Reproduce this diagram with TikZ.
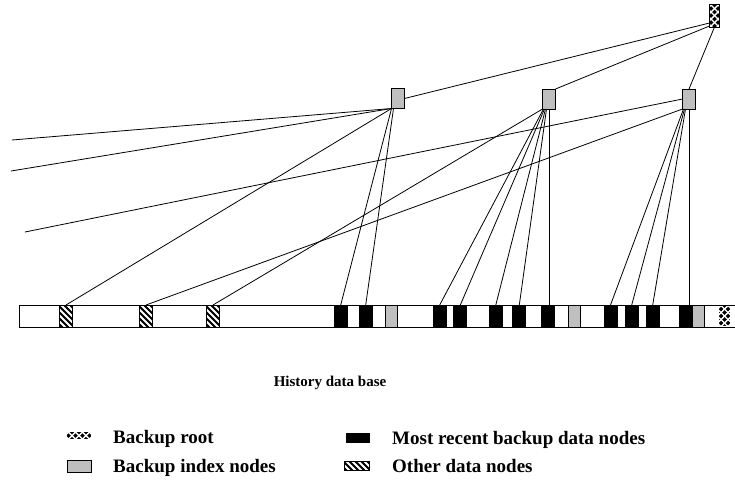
\documentclass[tikz,border=0pt]{standalone}
\usepackage{fontspec}
\setmainfont{Liberation Serif}
\usetikzlibrary{calc}

\begin{document}
\begin{tikzpicture}[x=1pt,y=-1pt,
  wire/.style={line width=0.8pt},
  cell/.style={draw, line width=0.9pt, minimum width=13pt, minimum height=22pt, inner sep=0pt, outer sep=0pt},
  idxbox/.style={cell, fill=gray!50, minimum height=20pt},
  recentbox/.style={cell, fill=black},
  stripes/.style={fill=black, path picture={
      \foreach \k in {-6,...,6}
        \draw[white, line width=1.9pt]
          ($(path picture bounding box.center)+(\k*6-15,-15)$) -- ++(30,30);}},
  hatch/.style={fill=black, path picture={
      \foreach \k in {-4,...,4}{
        \draw[white, line width=1.4pt]
          ($(path picture bounding box.center)+(\k*7-15,-15)$) -- ++(30,30);
        \draw[white, line width=1.4pt]
          ($(path picture bounding box.center)+(\k*7-15,15)$) -- ++(30,-30);}}},
  otherbox/.style={cell, stripes},
  rootbox/.style={cell, hatch, minimum width=10pt, minimum height=23pt},
  legsym/.style={inner sep=0pt, outer sep=0pt, minimum width=24pt},
  legtext/.style={anchor=base west, inner sep=0pt, font=\fontsize{19}{22}\selectfont\bfseries},
]
\useasboundingbox (0,0) rectangle (735,483);

% loose ends of connectors leaving the picture on the left
\coordinate (l1) at (12,140);
\coordinate (l2) at (11,171);
\coordinate (l3) at (25,232);

% the history data base strip
\draw[line width=1pt] (19.5,305) rectangle (736,327);

% other data nodes
\node[otherbox] (o1) at (66,316) {};
\node[otherbox] (o2) at (146,316) {};
\node[otherbox] (o3) at (213,316) {};

% most recent backup data nodes
\node[recentbox] (r1) at (340.7,316) {};
\node[recentbox] (r2) at (365.7,316) {};
\node[recentbox] (r3) at (439.7,316) {};
\node[recentbox] (r4) at (460.3,316) {};
\node[recentbox] (r5) at (495.8,316) {};
\node[recentbox] (r6) at (519.3,316) {};
\node[recentbox] (r7) at (547.5,316) {};
\node[recentbox] (r8) at (610.5,316) {};
\node[recentbox] (r9) at (631.7,316) {};
\node[recentbox] (r10) at (652.7,316) {};
\node[recentbox] (r11) at (685.5,316) {};

% copies of the index nodes in the strip
\node[idxbox, minimum height=22pt, minimum width=12pt] (g1) at (391.7,316) {};
\node[idxbox, minimum height=22pt, minimum width=12pt] (g2) at (574.2,316) {};
\node[idxbox, minimum height=22pt, minimum width=12pt] (g3) at (698.2,316) {};
\node[rootbox, draw=none, minimum width=11pt, minimum height=20pt] (rs) at (724.5,316) {};

% backup tree
\node[rootbox] (root) at (714.5,15.5) {};
\node[idxbox] (A) at (398,98.5) {};
\node[idxbox] (B) at (549,99) {};
\node[idxbox] (C) at (689,99) {};

% root to index nodes
\draw[wire] (A.east) -- ($(root.south west)+(0,-4)$);
\draw[wire] (B.north east) -- ($(root.south west)+(0,-1)$);
\draw[wire] (root.south) -- (C.north);

% index node A
\draw[wire] (A.south west) -- (l1);
\draw[wire] (A.south west) -- (l2);
\draw[wire] (A.south west) -- (o1.north);
\draw[wire] (A.south west) -- (r1.north);
\draw[wire] ($(A.south west)+(2,0)$) -- (r2.north);

% index node B
\draw[wire] (B.south west) -- (o3.north);
\draw[wire] ($(B.south west)+(1,0)$) -- (r3.north);
\draw[wire] ($(B.south west)+(2,0)$) -- (r4.north);
\draw[wire] ($(B.south west)+(3,0)$) -- (r5.north);
\draw[wire] ($(B.south west)+(4,0)$) -- (r6.north);
\draw[wire] (B.south) -- (B.south |- r7.north);

% index node C
\draw[wire] (C.west) -- (l3);
\draw[wire] (C.south west) -- (o2.north);
\draw[wire] ($(C.south west)+(1,0)$) -- (r8.north);
\draw[wire] ($(C.south west)+(2,0)$) -- (r9.north);
\draw[wire] ($(C.south west)+(3,0)$) -- (r10.north);
\draw[wire] (C.south) -- (C.south |- r11.north);

% caption
\node[anchor=base, inner sep=0pt, font=\fontsize{15}{18}\selectfont\bfseries] (cap) at (330,386) {History data base};

% legend
\node[legsym, hatch, minimum height=7pt] (k1) at (79,435.5) {};
\node[legtext] (t1) at (113,443) {Backup root};
\node[legsym, draw, line width=0.9pt, fill=gray!50, minimum height=12pt] (k2) at (79.5,466) {};
\node[legtext] (t2) at (113,472) {Backup index nodes};
\node[legsym, fill=black, minimum height=10pt] (k3) at (358,438) {};
\node[legtext] (t3) at (392,444) {Most recent backup data nodes};
\node[legsym, stripes, draw, line width=0.9pt, minimum height=9pt, minimum width=25pt] (k4) at (356.5,465.5) {};
\node[legtext] (t4) at (392,472) {Other data nodes};
\end{tikzpicture}
\end{document}
